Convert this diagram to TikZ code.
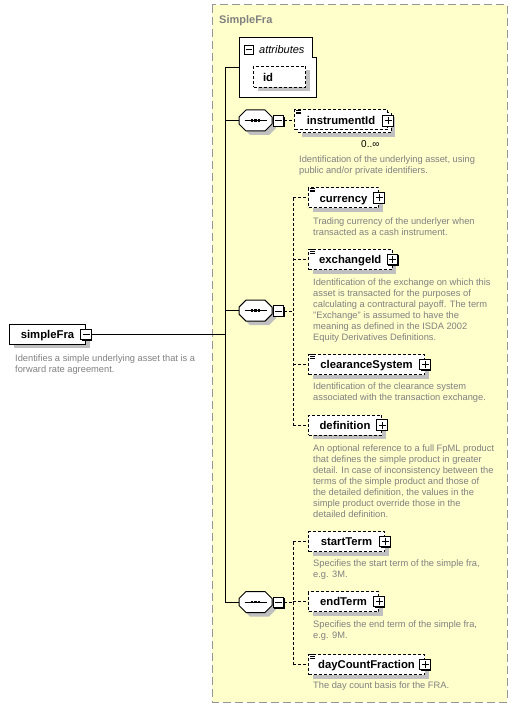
\documentclass[tikz,border=0pt]{standalone}
\usepackage{fontspec}
\setmainfont{Liberation Sans}
\usetikzlibrary{shadows,calc}
\definecolor{ybg}{RGB}{255,255,204}
\definecolor{dgray}{RGB}{128,128,128}
\definecolor{shgray}{RGB}{192,192,192}
\definecolor{bgray}{RGB}{150,150,150}
\tikzset{
  ln/.style={line width=1pt, black},
  conn/.style={line width=1pt, black, dash pattern=on 3pt off 2pt},
  elembase/.style={draw, line width=1pt, dash pattern=on 3pt off 2pt, fill=white,
    minimum height=20pt, inner sep=0pt, text height=8.2pt, text depth=0pt,
    font=\bfseries\fontsize{11.3}{13}\selectfont, anchor=west},
  elem/.style={elembase, drop shadow={shadow xshift=4pt, shadow yshift=-4pt, fill=shgray, opacity=1}},
  pmbox/.style={draw, line width=1pt, fill=white, minimum size=10.5pt, inner sep=0pt,
    general shadow={shadow xshift=1pt, shadow yshift=-1pt, fill=black}},
  plusbox/.style={pmbox, path picture={
    \draw[line width=1pt] ([xshift=-3.5pt]path picture bounding box.center) -- ([xshift=3.5pt]path picture bounding box.center);
    \draw[line width=1pt] ([yshift=-3.5pt]path picture bounding box.center) -- ([yshift=3.5pt]path picture bounding box.center);}},
  minusbox/.style={pmbox, path picture={
    \draw[line width=1pt] ([xshift=-3.5pt]path picture bounding box.center) -- ([xshift=3.5pt]path picture bounding box.center);}},
  desc/.style={anchor=north west, align=left, inner sep=0pt, text=dgray, font=\fontsize{9.3}{11}\selectfont},
  seqn/.style={minimum width=33pt, minimum height=21pt, inner sep=0pt},
}
\newcommand{\seqhex}[3]{%
  \node[seqn] (#1) at (#2,#3) {};
  \fill[shgray] ([shift={(4pt,-4pt)}]#1.center) ++(-16.5pt,3.5pt) -- ++(7pt,7pt) -- ++(19pt,0pt) -- ++(7pt,-7pt) -- ++(0pt,-7pt) -- ++(-7pt,-7pt) -- ++(-19pt,0pt) -- ++(-7pt,7pt) -- cycle;
  \draw[ln, fill=white] (#1.center) ++(-16.5pt,3.5pt) -- ++(7pt,7pt) -- ++(19pt,0pt) -- ++(7pt,-7pt) -- ++(0pt,-7pt) -- ++(-7pt,-7pt) -- ++(-19pt,0pt) -- ++(-7pt,7pt) -- cycle;
  \draw[ln] ([xshift=-11pt]#1.center) -- ([xshift=11pt]#1.center);
  \fill ([shift={(-4.8pt,-1.25pt)}]#1.center) rectangle ++(2.4pt,2.5pt);
  \fill ([shift={(-1.2pt,-1.25pt)}]#1.center) rectangle ++(2.4pt,2.5pt);
  \fill ([shift={(2.4pt,-1.25pt)}]#1.center) rectangle ++(2.4pt,2.5pt);
}
\newcommand{\eqicon}[1]{%
  \foreach \dy in {0.6,2.5,4.4}{
    \draw[line width=0.8pt] ([shift={(2pt,-\dy pt)}]#1.north west) -- ++(5pt,0pt);}
}
\begin{document}
\begin{tikzpicture}[x=1pt,y=-1pt]
\useasboundingbox (0,0) rectangle (518,708);
% type frame
\draw[fill=ybg, draw=bgray, line width=1pt, dash pattern=on 8pt off 4pt] (212,5) rectangle (507,702);
\node[anchor=base west, inner sep=0pt, text=dgray, font=\bfseries\fontsize{11}{13}\selectfont] (tname) at (219,23.3) {SimpleFra};

% root element
\node[draw, line width=1pt, fill=white, minimum width=76pt, minimum height=19.5pt, inner sep=0pt,
  text height=8.2pt, text depth=0pt, font=\bfseries\fontsize{11.3}{13}\selectfont, anchor=west,
  drop shadow={shadow xshift=4pt, shadow yshift=-4pt, fill=shgray, opacity=1}] (sf) at (9,334.5) {simpleFra};
\node[minusbox] (sfm) at (sf.east) {};
\node[desc] (sfd) at (15,355) {Identifies a simple underlying asset that is a\\forward rate agreement.};

% trunk
\coordinate (trunkT) at (225,68);
\coordinate (attrW) at (239,68);

% attributes
\draw[ln, fill=white] (239,38) -- (312,38) -- (312,58) -- (316.5,58) -- (316.5,97.5) -- (239,97.5) -- cycle;
\node[draw, line width=1pt, fill=white, minimum size=9pt, inner sep=0pt, path picture={
    \draw[line width=1pt] ([xshift=-3pt]path picture bounding box.center) -- ([xshift=3pt]path picture bounding box.center);}] (attrm) at (248.8,50) {};
\node[anchor=base west, inner sep=0pt, font=\itshape\fontsize{11}{13}\selectfont] (attrl) at (259,53.3) {attributes};
\node[elem, anchor=north west, minimum width=52pt, minimum height=21pt, text width=33pt, align=left] (idb) at (253,66) {id};

% sequences
\seqhex{s1}{255.5}{120.5}
\seqhex{s2}{255.5}{310.7}
\seqhex{s3}{255.5}{602}
\node[minusbox] (m1) at (278.5,121) {};
\node[minusbox] (m2) at (278.5,311) {};
\node[minusbox] (m3) at (278.5,602.5) {};

\draw[ln] (trunkT) -- (attrW);
\draw[ln] (trunkT) -- (trunkT |- s3.west);
\draw[ln] (s1.west -| trunkT) -- (s1.west);
\draw[ln] (s2.west -| trunkT) -- (s2.west);
\draw[ln] (s3.west -| trunkT) -- (s3.west);
\draw[ln] (sfm.east) -- (sfm.east -| trunkT);

% sequence 1: instrumentId
\node[elem, minimum width=93pt] (iidb) at (297.5,123) {};
\node[elembase, minimum width=93pt] (iid) at (294,120) {instrumentId};
\eqicon{iid}
\node[plusbox] (iidp) at ([yshift=-1pt]iid.east) {};
\node[anchor=base west, inner sep=0pt, font=\fontsize{10}{12}\selectfont] (occ) at (361,147.5) {0..∞};
\node[desc] (iidd) at (299,156) {Identification of the underlying asset, using\\public and/or private identifiers.};
\draw[conn] (m1.east) -- (m1.east -| iid.west);

% sequence 2
\coordinate (bx) at (293,0);
\node[elem, minimum width=70pt] (cur) at (308,198) {currency};
\eqicon{cur}
\node[plusbox] (curp) at (cur.east) {};
\node[desc] (curd) at (313,217.7) {Trading currency of the underlyer when\\transacted as a cash instrument.};

\node[elem, minimum width=83.5pt] (exid) at (308,259.5) {exchangeId};
\eqicon{exid}
\node[plusbox] (exidp) at (exid.east) {};
\node[desc] (exidd) at (313,278.3) {Identification of the exchange on which this\\asset is transacted for the purposes of\\calculating a contractural payoff. The term\\"Exchange" is assumed to have the\\meaning as defined in the ISDA 2002\\Equity Derivatives Definitions.};

\node[elem, minimum width=116pt] (clr) at (308,364.5) {clearanceSystem};
\eqicon{clr}
\node[plusbox] (clrp) at (clr.east) {};
\node[desc] (clrd) at (313,383) {Identification of the clearance system\\associated with the transaction exchange.};

\node[elem, minimum width=73pt] (def) at (308,425) {definition};
\node[plusbox] (defp) at (def.east) {};
\node[desc] (defd) at (313,444.3) {An optional reference to a full FpML product\\that defines the simple product in greater\\detail. In case of inconsistency between the\\terms of the simple product and those of\\the detailed definition, the values in the\\simple product override those in the\\detailed definition.};

\draw[conn] (m2.east) -- (m2.east -| bx);
\draw[conn] (cur.west -| bx) -- (def.west -| bx);
\foreach \n in {cur,exid,clr,def}{\draw[conn] (\n.west -| bx) -- (\n.west);}

% sequence 3
\node[elem, minimum width=76pt] (st) at (308,541.7) {startTerm};
\node[plusbox] (stp) at (st.east) {};
\node[desc] (std) at (313,560) {Specifies the start term of the simple fra,\\e.g. 3M.};

\node[elem, minimum width=70pt] (et) at (308,601.7) {endTerm};
\node[plusbox] (etp) at (et.east) {};
\node[desc] (etd) at (313,621) {Specifies the end term of the simple fra,\\e.g. 9M.};

\node[elem, minimum width=116pt] (dcf) at (308,664.5) {dayCountFraction};
\eqicon{dcf}
\node[plusbox] (dcfp) at (dcf.east) {};
\node[desc] (dcfd) at (313,681.7) {The day count basis for the FRA.};

\draw[conn] (m3.east) -- (m3.east -| bx);
\draw[conn] (st.west -| bx) -- (dcf.west -| bx);
\foreach \n in {st,et,dcf}{\draw[conn] (\n.west -| bx) -- (\n.west);}
\end{tikzpicture}
\end{document}
